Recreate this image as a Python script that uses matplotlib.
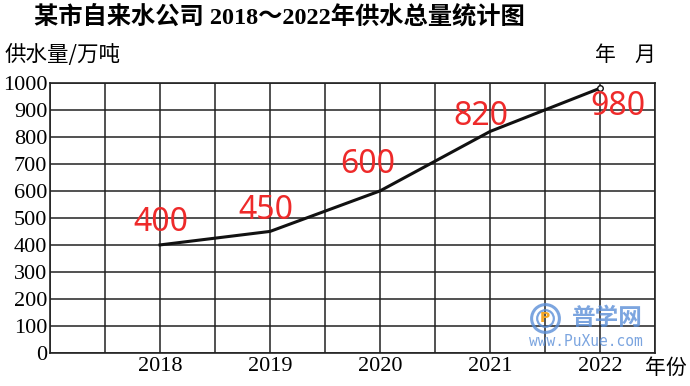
import numpy as np
import matplotlib.pyplot as plt

plt.rcParams['font.family'] = ['Noto Sans CJK SC', 'DejaVu Sans']

# data
years = [2018, 2019, 2020, 2021, 2022]
supply = [400, 450, 600, 820, 980]
labels = ['400', '450', '600', '820', '980']
y_ticks = list(range(0, 1001, 100))

fig = plt.figure(figsize=(6.9, 3.86), dpi=100)
fig.patch.set_facecolor('white')
ax = fig.add_axes([0.0725, 0.0855, 0.877, 0.700])

ax.set_xlim(2017, 2022.5)
ax.set_ylim(0, 1000)

# grid: vertical every half year, horizontal every 100
for x in np.arange(2017, 2022.51, 0.5):
    ax.axvline(x, color='#222222', lw=1.1, zorder=1)
for y in y_ticks:
    ax.axhline(y, color='#222222', lw=1.1, zorder=1)

ax.plot(years, supply, color='#111111', lw=2.2, zorder=3)
ax.plot(years[-1:], supply[-1:], marker='o', ms=4, mfc='white', mec='#111111', mew=1, zorder=4)

# red value labels (offsets in points from each point)
offsets = [(0.7, 16.5), (-3, 15), (-8.6, 18.7), (-7, 11), (13, -13)]
for x, y, t, (dx, dy) in zip(years, supply, labels, offsets):
    ax.annotate(t, (x, y), xytext=(dx, dy), textcoords='offset points',
                ha='center', va='center', color='#ee2a2a', fontsize=23,
                family=['Noto Sans'], zorder=5)

ax.set_xticks(years)
ax.set_xticklabels([str(y) for y in years], family=['Liberation Serif'], fontsize=16)
ax.set_yticks(y_ticks)
ax.set_yticklabels([str(y) for y in y_ticks], family=['Liberation Serif'], fontsize=16)
ax.tick_params(length=0, pad=3)
ax.tick_params(axis='y', pad=2)
for s in ax.spines.values():
    s.set_color('#222222')
    s.set_linewidth(1.2)

fig.text(0.05, 0.956, '某市自来水公司 2018～2022年供水总量统计图', fontsize=17.5,
         fontweight='bold', ha='left', va='center',
         family=['Liberation Serif', 'Noto Sans CJK SC'])
fig.text(0.006, 0.857, '供水量/万吨', fontsize=15.5, ha='left', va='center')
fig.text(0.862, 0.857, '年', fontsize=15, ha='left', va='center')
fig.text(0.92, 0.857, '月', fontsize=15, ha='left', va='center')
fig.text(0.935, 0.047, '年份', fontsize=15, ha='left', va='center')

# watermark logo
blue = '#5b8fd8'
for ms, mew in [(20, 2.2), (12, 1.6)]:
    fig.add_artist(plt.Line2D([0.790], [0.176], marker='o', ms=ms, mfc='none', mec=blue,
                              mew=mew, alpha=0.8, transform=fig.transFigure))
fig.text(0.790, 0.176, 'P', fontsize=10, color='#f5a623', fontweight='bold', ha='center',
         va='center', family=['DejaVu Sans'])
fig.text(0.881, 0.176, '普学网', fontsize=17, color=blue, alpha=0.8, fontweight='bold',
         ha='center', va='center')
fig.text(0.849, 0.114, 'www.PuXue.com', fontsize=10.5, color=blue, alpha=0.8, ha='center',
         va='center', family=['DejaVu Sans Mono'])

fig.savefig('out.png', dpi=100)
